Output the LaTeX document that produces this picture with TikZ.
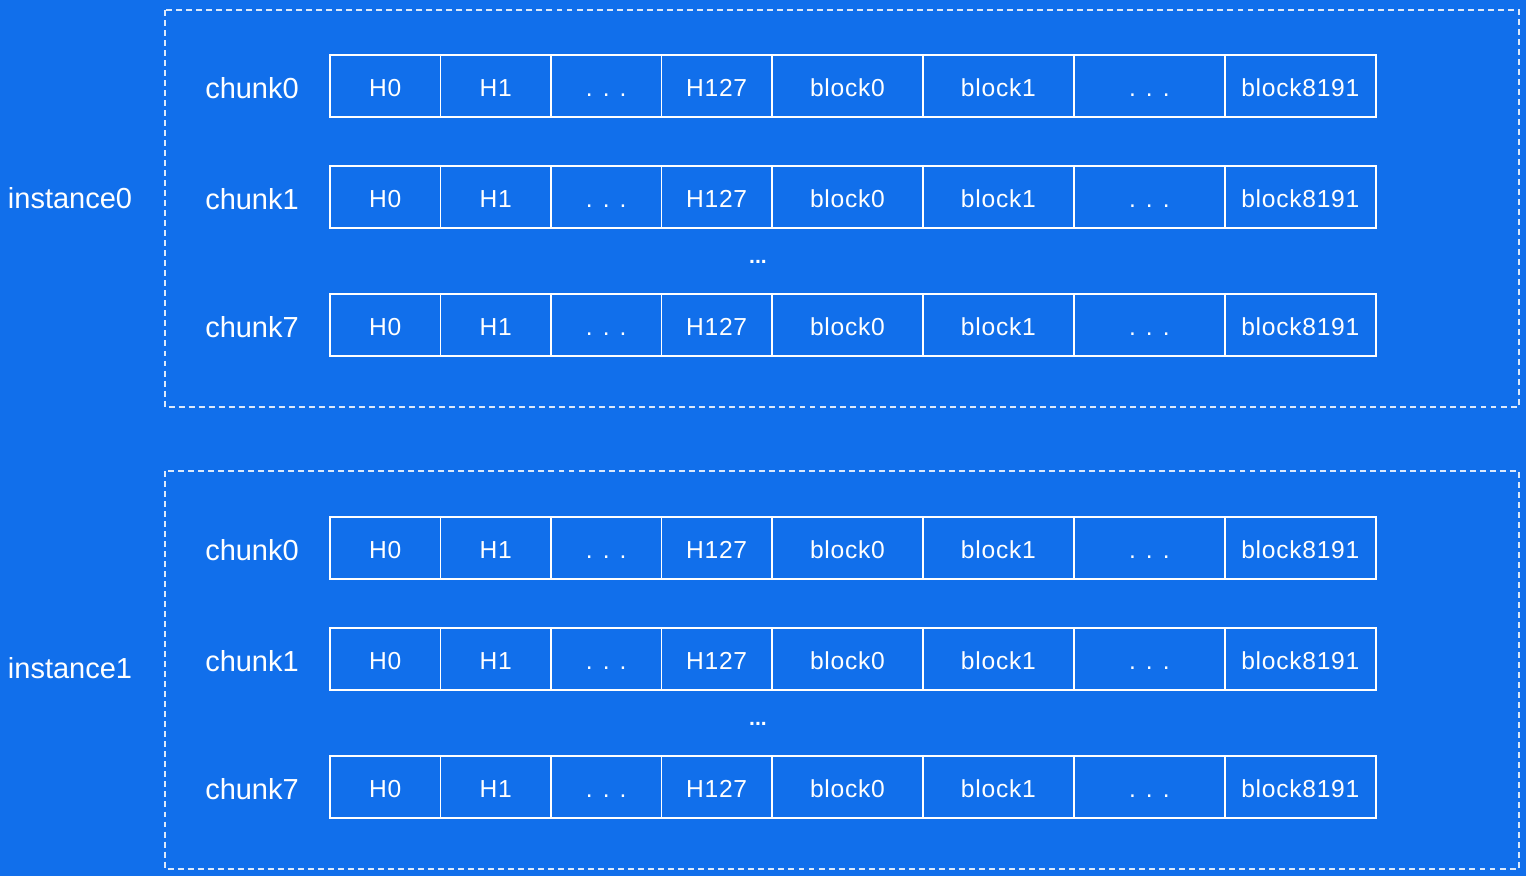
\documentclass[tikz,border=0pt]{standalone}
\usepackage{fontspec}
\setmainfont{Liberation Sans}
\newfontfamily\cellfont[LetterSpace=3]{Liberation Sans}
\usetikzlibrary{positioning}
\definecolor{bgblue}{RGB}{17,111,235}

\tikzset{
  cellbox/.style={draw=white, line width=0.8pt, text=white, inner sep=0pt, outer sep=0pt,
    minimum height=1.24cm, text height=12pt, text depth=0pt,
    font=\cellfont\fontsize{14}{16}\selectfont},
  hcell/.style={cellbox, minimum width=2.21cm},
  bcell/.style={cellbox, minimum width=3.02cm},
  rowlabel/.style={text=white, font=\fontsize{16.5}{20}\selectfont},
  skipdots/.style={text=white, font=\bfseries\fontsize{12}{14}\selectfont},
  group/.style={draw=white!85!bgblue, line width=0.6pt, dash pattern=on 3.4pt off 2.3pt}
}

\begin{document}
\begin{tikzpicture}[x=0.02cm, y=-0.02cm]
  \fill[bgblue] (0,0) rectangle (1526,876);
  \useasboundingbox (0,0) rectangle (1526,876);

  % the two instances
  \draw[group] (165,10) rectangle (1519,407);
  \draw[group] (165,471) rectangle (1519,869);
  \node[rowlabel] (inst0) at (70,198) {instance0};
  \node[rowlabel] (inst1) at (70,668) {instance1};

  \foreach \inst/\yo in {0/0, 1/462} {
    \foreach \ch/\yc in {0/86, 1/197, 7/325} {
      \node[rowlabel] (lbl\inst\ch) at (252,\yc+\yo+2) {chunk\ch};
      \node[hcell, anchor=west] (c\inst\ch-1) at (330,\yc+\yo) {H0};
      \node[hcell, right=0pt of c\inst\ch-1] (c\inst\ch-2) {H1};
      \node[hcell, right=0pt of c\inst\ch-2] (c\inst\ch-3) {. . .};
      \node[hcell, right=0pt of c\inst\ch-3] (c\inst\ch-4) {H127};
      \node[bcell, right=0pt of c\inst\ch-4] (c\inst\ch-5) {block0};
      \node[bcell, right=0pt of c\inst\ch-5] (c\inst\ch-6) {block1};
      \node[bcell, right=0pt of c\inst\ch-6] (c\inst\ch-7) {. . .};
      \node[bcell, right=0pt of c\inst\ch-7] (c\inst\ch-8) {block8191};
    }
    \node[skipdots] (gap\inst) at (758,262+\yo) {...};
  }
\end{tikzpicture}
\end{document}
